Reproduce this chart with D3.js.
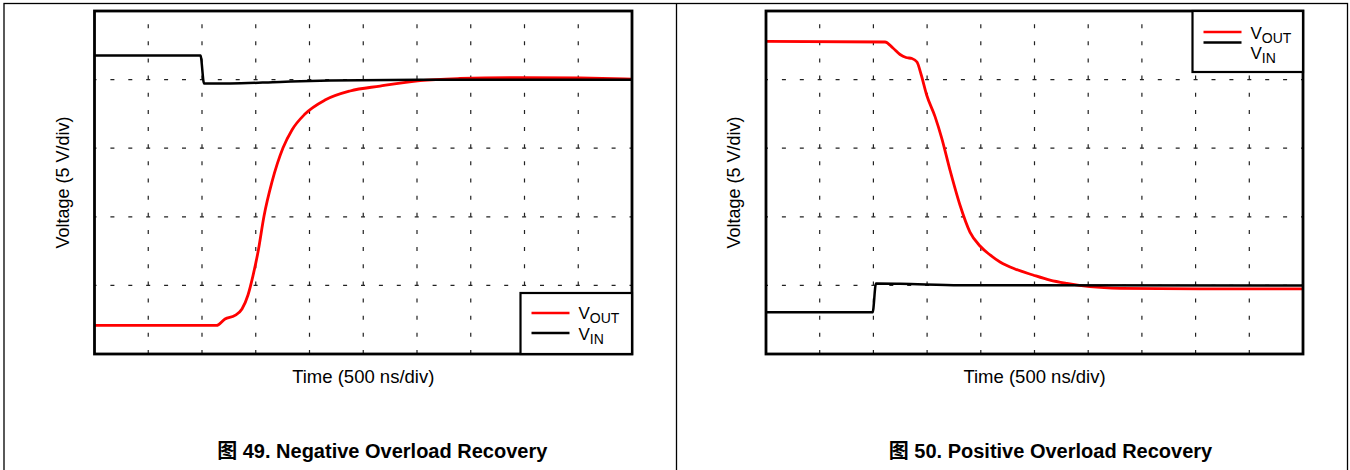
<!DOCTYPE html>
<html>
<head>
<meta charset="utf-8">
<script src="https://cdn.jsdelivr.net/npm/d3@7"></script>
<style>
    body { margin: 0; background: #fff; }
    svg { display: block; font-family: "Liberation Sans", Arial, "Noto Sans CJK SC", sans-serif; }
</style>
</head>
<body>
<svg id="chart" width="1350" height="470"></svg>
<script>
// Time in ns (500 ns/div), voltage in V (5 V/div), both
const timeDomain = [0, 5000]
const voltDomain = [0, 25]
const timeGrid = d3.range(500, 5000, 500)
const voltGrid = [5, 10, 15, 20]

// Figure 49 - negative overload
const negVinT  = [0, 986, 1019, 1260, 1726, 2191, 3028, 5000]
const negVinV  = [21.76, 21.76, 19.72, 19.72, 19.83, 19.93, 19.99, 19.99]
const negVoutT = [0, 1135, 1214, 1307, 1372, 1428, 1474, 1521, 1577, 1651, 1753, 1837, 1958, 2144, 2377, 2656, 3028, 3400, 3958, 4516, 5000]
const negVoutV = [2.08, 2.08, 2.55, 2.81, 3.28, 4.30, 5.69, 7.43, 10.06, 12.54, 15.01, 16.33, 17.49, 18.51, 19.17, 19.53, 19.93, 20.08, 20.15, 20.12, 20.04]

// Figure 50 - positive overload
const posVinT  = [0, 993, 1024, 1248, 1806, 5000]
const posVinV  = [3.04, 3.04, 5.14, 5.12, 5.01, 5.00]
const posVoutT = [0, 1108, 1182, 1248, 1304, 1359, 1406, 1443, 1496, 1574, 1636, 1713, 1806, 1899, 1993, 2086, 2179, 2318, 2486, 2644, 2802, 3017, 3296, 4041, 5000]
const posVoutV = [22.78, 22.74, 22.30, 21.83, 21.61, 21.54, 21.28, 20.41, 18.88, 17.30, 15.74, 13.41, 10.86, 8.89, 7.87, 7.22, 6.71, 6.20, 5.76, 5.39, 5.15, 4.91, 4.79, 4.74, 4.74]

const xLabel = "Time (500 ns/div)"
const yLabel = "Voltage (5 V/div)"
const titles = ["图 49. Negative Overload Recovery", "图 50. Positive Overload Recovery"]

const _TOP = 11
const _BOTTOM = 354
const panels = [
    {
        left: 94.5, right: 632, title: titles[0], titleShift: 19,
        vin: negVinT.map((t, i) => [t, negVinV[i]]),
        vout: negVoutT.map((t, i) => [t, negVoutV[i]]),
        legend: { x: 520.5, y: 293, lines: [20, 40], texts: [26, 47] },
    },
    {
        left: 766, right: 1303, title: titles[1], titleShift: 16,
        vin: posVinT.map((t, i) => [t, posVinV[i]]),
        vout: posVoutT.map((t, i) => [t, posVoutV[i]]),
        legend: { x: 1192.5, y: 11, lines: [21, 31.5], texts: [28, 48] },
    },
]

const svg = d3.select("#chart")

// outer frame + divider
svg.append("rect")
    .attr("x", 4).attr("y", 3.5)
    .attr("width", 1343.5).attr("height", 480)
    .attr("fill", "none").attr("stroke", "#000").attr("stroke-width", 1.3)
svg.append("line")
    .attr("x1", 676.5).attr("x2", 676.5).attr("y1", 3.5).attr("y2", 470)
    .attr("stroke", "#000").attr("stroke-width", 1.3)

panels.forEach(p => {
    const x = d3.scaleLinear().domain(timeDomain).range([p.left, p.right])
    const y = d3.scaleLinear().domain(voltDomain).range([_BOTTOM, _TOP])
    const g = svg.append("g")

    // grid
    g.selectAll("line.vgrid")
        .data(timeGrid)
        .join("line")
        .attr("class", "vgrid")
        .attr("x1", d => x(d)).attr("x2", d => x(d))
        .attr("y1", _BOTTOM).attr("y2", _TOP)
        .attr("stroke", "#222").attr("stroke-width", 1.2)
        .attr("stroke-dasharray", "4,13.15")
    g.selectAll("line.hgrid")
        .data(voltGrid)
        .join("line")
        .attr("class", "hgrid")
        .attr("x1", p.left).attr("x2", p.right)
        .attr("y1", d => y(d)).attr("y2", d => y(d))
        .attr("stroke", "#222").attr("stroke-width", 1.2)
        .attr("stroke-dasharray", "4,13.9")
        .attr("stroke-dashoffset", 2)

    // traces
    const line = d3.line()
        .x(d => x(d[0]))
        .y(d => y(d[1]))
        .curve(d3.curveMonotoneX)
    g.append("path")
        .datum(p.vout)
        .attr("fill", "none").attr("stroke", "#ff0000").attr("stroke-width", 2.8)
        .attr("d", line)
    g.append("path")
        .datum(p.vin)
        .attr("fill", "none").attr("stroke", "#000").attr("stroke-width", 2.5)
        .attr("d", line)

    // plot border
    g.append("rect")
        .attr("x", p.left).attr("y", _TOP)
        .attr("width", p.right - p.left).attr("height", _BOTTOM - _TOP)
        .attr("fill", "none").attr("stroke", "#000").attr("stroke-width", 2.8)

    // legend
    const lg = g.append("g").attr("transform", `translate(${p.legend.x},${p.legend.y})`)
    lg.append("rect")
        .attr("width", p.right - p.legend.x).attr("height", 61)
        .attr("fill", "#fff").attr("stroke", "#000").attr("stroke-width", 2.2)
    const items = [
        { color: "#ff0000", sub: "OUT" },
        { color: "#000", sub: "IN" },
    ]
    items.forEach((it, i) => {
        lg.append("line")
            .attr("x1", 11).attr("x2", 49)
            .attr("y1", p.legend.lines[i]).attr("y2", p.legend.lines[i])
            .attr("stroke", it.color).attr("stroke-width", 2.5)
        const t = lg.append("text")
            .attr("x", 58).attr("y", p.legend.texts[i])
            .attr("font-size", 17)
            .text("V")
        t.append("tspan")
            .attr("dy", 4).attr("font-size", 14)
            .text(it.sub)
    })

    // axis labels
    const cx = (p.left + p.right) / 2
    g.append("text")
        .attr("x", cx).attr("y", 383)
        .attr("text-anchor", "middle").attr("font-size", 18.5)
        .text(xLabel)
    g.append("text")
        .attr("transform", `translate(${p.left - 26},${(_TOP + _BOTTOM) / 2}) rotate(-90)`)
        .attr("text-anchor", "middle").attr("font-size", 18)
        .text(yLabel)

    // title
    g.append("text")
        .attr("x", cx + p.titleShift).attr("y", 458)
        .attr("text-anchor", "middle").attr("font-size", 20).attr("font-weight", "bold")
        .text(p.title)
})
</script>
</body>
</html>
